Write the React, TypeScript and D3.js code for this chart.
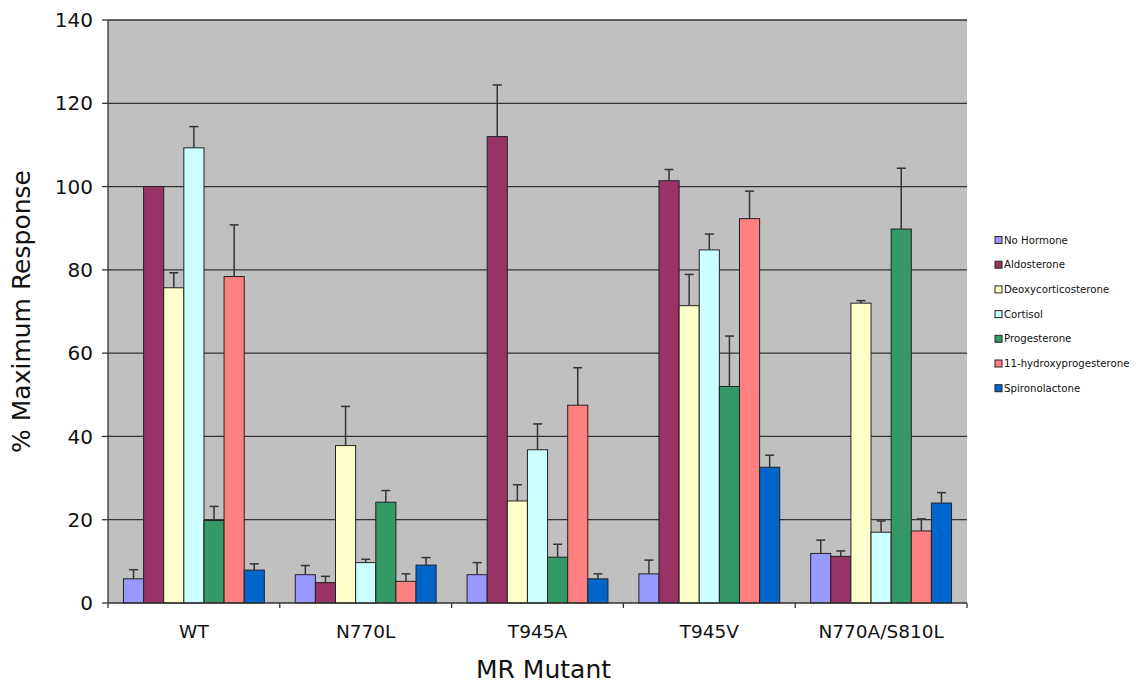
import React from "react";
import * as d3 from "d3";

const mutants = ["WT", "N770L", "T945A", "T945V", "N770A/S810L"];
const hormones = [
  "No Hormone",
  "Aldosterone",
  "Deoxycorticosterone",
  "Cortisol",
  "Progesterone",
  "11-hydroxyprogesterone",
  "Spironolactone",
];
const colors = ["#9999FF", "#993366", "#FFFFCC", "#CCFFFF", "#339966", "#FF8080", "#0066CC"];

// values per mutant, in hormone order
const means = [
  [5.8, 100, 75.7, 109.3, 19.8, 78.4, 7.9],
  [6.8, 4.9, 37.8, 9.7, 24.2, 5.2, 9.1],
  [6.8, 112, 24.5, 36.8, 11, 47.5, 5.8],
  [7, 101.4, 71.4, 84.8, 52, 92.3, 32.6],
  [11.9, 11.2, 72, 17, 89.8, 17.3, 24],
];
// top of the error bar
const errTops = [
  [8, 100, 79.3, 114.4, 23.2, 90.8, 9.4],
  [9, 6.4, 47.2, 10.5, 27, 7, 10.9],
  [9.7, 124.4, 28.4, 43, 14.1, 56.5, 7],
  [10.3, 104.1, 78.9, 88.6, 64.1, 98.9, 35.5],
  [15.1, 12.5, 72.6, 19.7, 104.4, 20.2, 26.5],
];
const yTicks = [0, 20, 40, 60, 80, 100, 120, 140];

const W = 1143;
const H = 689;
const margin = { left: 108, right: 176, top: 20, bottom: 86 };
const font = "'DejaVu Sans', Verdana, sans-serif";

export default function App() {
  const innerW = W - margin.left - margin.right;
  const innerH = H - margin.top - margin.bottom;

  const x0 = d3.scaleBand().domain(mutants).range([0, innerW]).padding(0);
  const groupPad = x0.bandwidth() * 0.09;
  const x1 = d3
    .scaleBand()
    .domain(hormones)
    .range([groupPad, x0.bandwidth() - groupPad])
    .padding(0);
  const y = d3.scaleLinear().domain([0, 140]).range([innerH, 0]);

  return (
    <svg width={W} height={H} style={{ position: "absolute", left: 0, top: 0 }}>
      <rect width={W} height={H} fill="#fff" />
      <g transform={`translate(${margin.left},${margin.top})`}>
        <rect width={innerW} height={innerH} fill="#C0C0C0" />
        {yTicks.slice(1).map((t) => (
          <line key={t} x1={0} x2={innerW} y1={y(t)} y2={y(t)} stroke="#333" strokeWidth={1.3} />
        ))}
        {mutants.map((m, i) => (
          <g key={m} transform={`translate(${x0(m)},0)`}>
            {hormones.map((h, j) => {
              const v = means[i][j];
              const e = errTops[i][j];
              const bx = x1(h)!;
              const cx = bx + x1.bandwidth() / 2;
              return (
                <g key={h}>
                  {e > v && (
                    <g stroke="#333" strokeWidth={1.5}>
                      <line x1={cx} x2={cx} y1={y(v)} y2={y(e)} />
                      <line x1={cx - 4.5} x2={cx + 4.5} y1={y(e)} y2={y(e)} />
                    </g>
                  )}
                  <rect
                    x={bx}
                    y={y(v)}
                    width={x1.bandwidth()}
                    height={innerH - y(v)}
                    fill={colors[j]}
                    stroke="#222"
                    strokeWidth={1}
                  />
                </g>
              );
            })}
          </g>
        ))}
        {/* axes */}
        <line x1={0} x2={0} y1={0} y2={innerH} stroke="#333" strokeWidth={1.3} />
        <line x1={0} x2={innerW} y1={innerH} y2={innerH} stroke="#333" strokeWidth={1.3} />
        {yTicks.map((t) => (
          <g key={t}>
            <line x1={-6} x2={0} y1={y(t)} y2={y(t)} stroke="#333" strokeWidth={1.3} />
            <text
              x={-15}
              y={y(t)}
              dy="0.36em"
              textAnchor="end"
              fontFamily={font}
              fontSize={20}
              fill="#111"
            >
              {t}
            </text>
          </g>
        ))}
        {mutants.map((m, i) => (
          <g key={m}>
            <line
              x1={x0(m)! + x0.bandwidth()}
              x2={x0(m)! + x0.bandwidth()}
              y1={innerH}
              y2={innerH + 5}
              stroke="#333"
              strokeWidth={1.3}
            />
            {i === 0 && (
              <line x1={0} x2={0} y1={innerH} y2={innerH + 5} stroke="#333" strokeWidth={1.3} />
            )}
            <text
              x={x0(m)! + x0.bandwidth() / 2}
              y={innerH + 35}
              textAnchor="middle"
              fontFamily={font}
              fontSize={18.5}
              fill="#111"
            >
              {m}
            </text>
          </g>
        ))}
        <text
          x={innerW / 2 + 6}
          y={innerH + 75}
          textAnchor="middle"
          fontFamily={font}
          fontSize={25}
          fill="#111"
        >
          MR Mutant
        </text>
        <text
          transform={`translate(${-78},${innerH / 2}) rotate(-90)`}
          textAnchor="middle"
          fontFamily={font}
          fontSize={25}
          fill="#111"
        >
          % Maximum Response
        </text>
      </g>
      {/* legend */}
      <g transform="translate(995,240)">
        {hormones.map((h, j) => (
          <g key={h} transform={`translate(0,${j * 24.7})`}>
            <rect x={0} y={-3.5} width={7} height={7} fill={colors[j]} stroke="#222" strokeWidth={1} />
            <text x={9} y={0} dy="0.35em" fontFamily={font} fontSize={10.2} fill="#111">
              {h}
            </text>
          </g>
        ))}
      </g>
    </svg>
  );
}
